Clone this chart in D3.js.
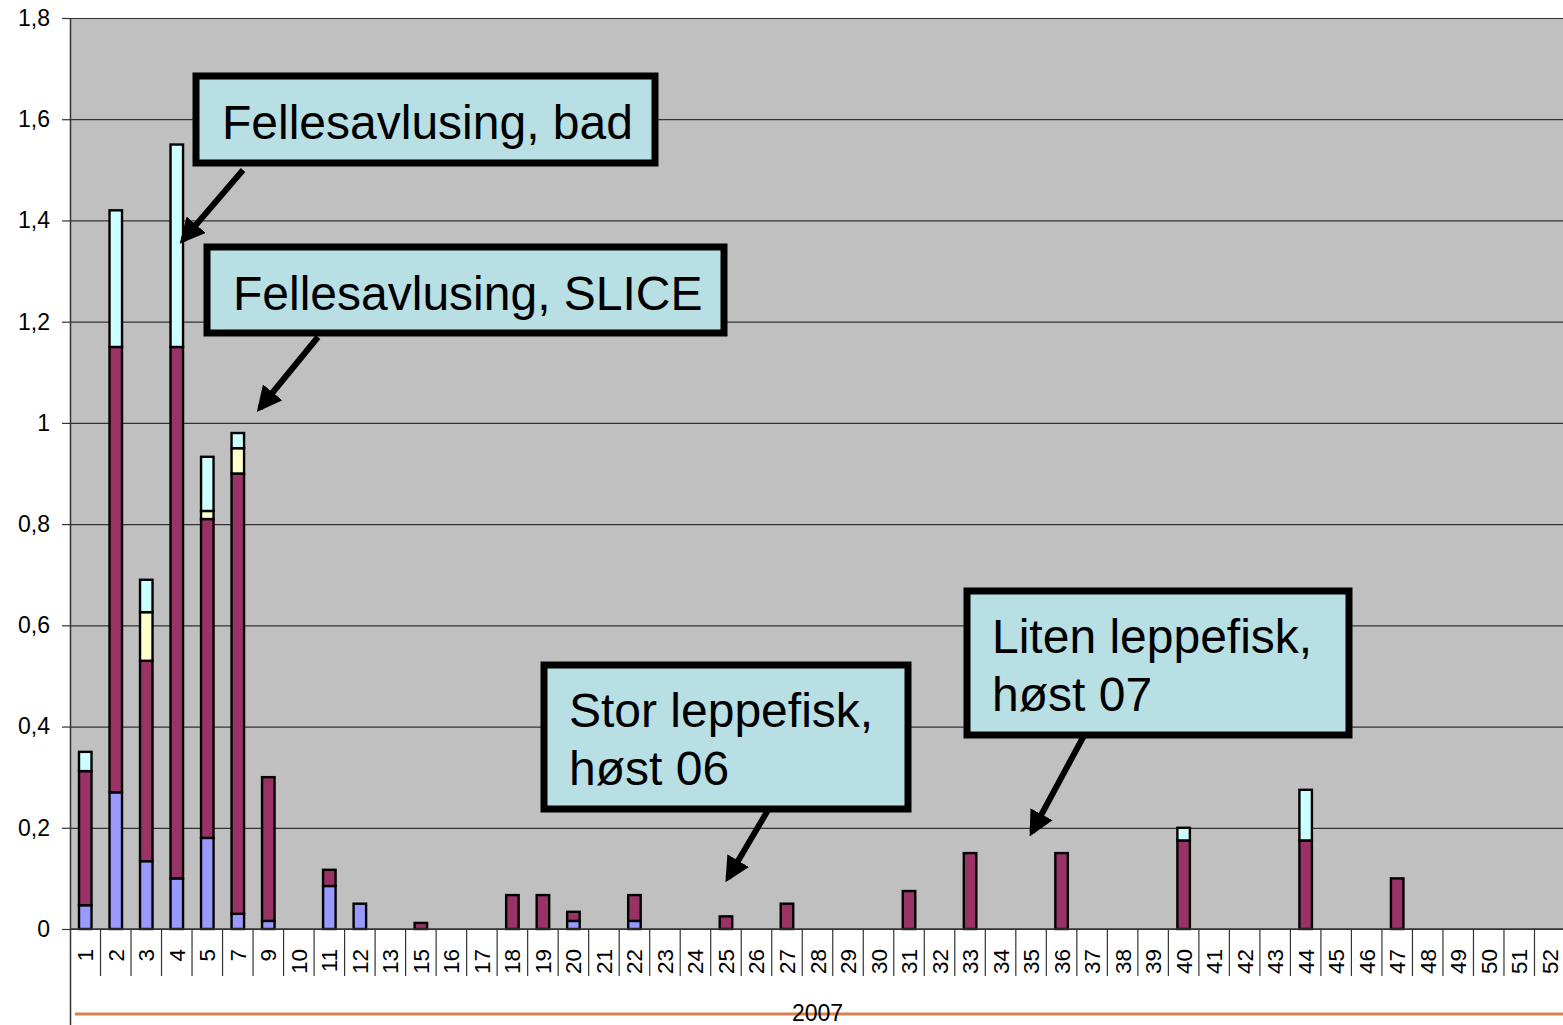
<!DOCTYPE html>
<html>
<head>
<meta charset="utf-8">
<script src="https://cdn.jsdelivr.net/npm/d3@7"></script>
<style>
  body { margin: 0; background: #fff; }
  svg text { font-family: "Liberation Sans", Arial, sans-serif; }
</style>
</head>
<body>
<svg id="chart" width="1563" height="1025"></svg>
<script>
// weeks shown on the axis (6, 8 and 14 are missing in the source)
const weeks = [1,2,3,4,5,7,9,10,11,12,13,15,16,17,18,19,20,21,22,23,24,25,26,27,28,29,30,
  31,32,33,34,35,36,37,38,39,40,41,42,43,44,45,46,47,48,49,50,51,52]

const blue   = [0.047,0.27,0.134,0.1,0.18,0.03,0.016,0,0.085,0.05,0,0,0,0,0,0,0.016,0,0.016,0,0,0,0,0,0,0,0,
  0,0,0,0,0,0,0,0,0,0,0,0,0,0,0,0,0,0,0,0,0,0]
const maroon = [0.265,0.88,0.396,1.05,0.63,0.87,0.284,0,0.032,0,0,0.012,0,0,0.067,0.067,0.018,0,0.051,0,0,0.025,0,0.05,0,0,0,
  0.075,0,0.15,0,0,0.15,0,0,0,0.175,0,0,0,0.175,0,0,0.1,0,0,0,0,0]
const yellow = [0,0,0.096,0,0.016,0.05,0,0,0,0,0,0,0,0,0,0,0,0,0,0,0,0,0,0,0,0,0,
  0,0,0,0,0,0,0,0,0,0,0,0,0,0,0,0,0,0,0,0,0,0]
const cyan   = [0.038,0.27,0.064,0.4,0.107,0.03,0,0,0,0,0,0,0,0,0,0,0,0,0,0,0,0,0,0,0,0,0,
  0,0,0,0,0,0,0,0,0,0.025,0,0,0,0.1,0,0,0,0,0,0,0,0]

const seriesKeys = ["blue", "maroon", "yellow", "cyan"]
const seriesColors = ["#9999FF", "#993366", "#FFFFCC", "#CCFFFF"]
const yTicks = [0, 0.2, 0.4, 0.6, 0.8, 1, 1.2, 1.4, 1.6, 1.8]
const yearLabel = "2007"

// callout boxes (pixel layout) and their arrows
const callouts = [
  {lines: ["Fellesavlusing, bad"], x: 196, y: 76, w: 459, h: 87, arrow: [[243, 170], [183, 240]]},
  {lines: ["Fellesavlusing, SLICE"], x: 207, y: 247, w: 517, h: 86, arrow: [[318, 337], [260, 408]]},
  {lines: ["Stor leppefisk,", "høst 06"], x: 544, y: 665, w: 364, h: 144, arrow: [[771, 805], [728, 878]]},
  {lines: ["Liten leppefisk,", "høst 07"], x: 967, y: 591, w: 382, h: 144, arrow: [[1087, 730], [1032, 832]]}
]

const rows = weeks.map((w, i) => ({week: w, blue: blue[i], maroon: maroon[i], yellow: yellow[i], cyan: cyan[i]}))

const svg = d3.select("#chart")
const plot = {left: 70, right: 1565, top: 18, bottom: 929}

const x = d3.scaleBand()
  .domain(weeks)
  .range([plot.left, plot.right])
const y = d3.scaleLinear()
  .domain([0, 1.8])
  .range([plot.bottom, plot.top])

// plot background
svg.append("rect")
  .attr("x", plot.left).attr("y", plot.top)
  .attr("width", plot.right - plot.left).attr("height", plot.bottom - plot.top)
  .attr("fill", "#C0C0C0")

// gridlines
svg.append("g")
  .selectAll("line")
  .data(yTicks)
  .join("line")
  .attr("x1", plot.left).attr("x2", plot.right)
  .attr("y1", d => y(d) + 0.5).attr("y2", d => y(d) + 0.5)
  .attr("stroke", "#333").attr("stroke-width", 1.2)

// y axis
const yAxis = svg.append("g")
  .attr("transform", `translate(${plot.left},0)`)
  .call(d3.axisLeft(y).tickValues(yTicks).tickSize(8).tickPadding(12)
    .tickFormat(d => String(d).replace(".", ",")))
yAxis.select(".domain").remove()
yAxis.selectAll(".tick line").attr("stroke", "#333").attr("stroke-width", 1.2)
yAxis.selectAll(".tick text").attr("font-size", 23).attr("fill", "#000")
  .attr("font-family", "Liberation Sans, Arial, sans-serif")

svg.append("line")
  .attr("x1", plot.left + 0.5).attr("x2", plot.left + 0.5)
  .attr("y1", plot.top).attr("y2", 1025)
  .attr("stroke", "#333").attr("stroke-width", 1.5)

// stacked bars
const stack = d3.stack().keys(seriesKeys)
const layers = stack(rows)
const barW = x.bandwidth() * 0.41

svg.append("g")
  .selectAll("g")
  .data(layers)
  .join("g")
  .attr("fill", (d, i) => seriesColors[i])
  .selectAll("rect")
  .data(d => d.filter(s => s[1] - s[0] > 0))
  .join("rect")
  .attr("x", d => x(d.data.week) + (x.bandwidth() - barW) / 2)
  .attr("y", d => y(d[1]))
  .attr("width", barW)
  .attr("height", d => y(d[0]) - y(d[1]))
  .attr("stroke", "#000")
  .attr("stroke-width", 2.4)

// x axis line and category separators
svg.append("line")
  .attr("x1", plot.left).attr("x2", plot.right)
  .attr("y1", plot.bottom).attr("y2", plot.bottom)
  .attr("stroke", "#333").attr("stroke-width", 1.5)

svg.append("g")
  .selectAll("line")
  .data(weeks.slice(1))
  .join("line")
  .attr("x1", d => x(d)).attr("x2", d => x(d))
  .attr("y1", plot.bottom).attr("y2", 976)
  .attr("stroke", "#333").attr("stroke-width", 1.2)

svg.append("g")
  .selectAll("text")
  .data(weeks)
  .join("text")
  .attr("transform", d => `translate(${x(d) + x.bandwidth() / 2 + 8},949) rotate(-90)`)
  .attr("text-anchor", "end")
  .attr("font-size", 22.5)
  .text(d => d)

// year band
svg.append("line")
  .attr("x1", 75).attr("x2", 1563)
  .attr("y1", 1014).attr("y2", 1014)
  .attr("stroke", "#D8814F").attr("stroke-width", 3)

svg.append("text")
  .attr("x", (plot.left + plot.right) / 2)
  .attr("y", 1021)
  .attr("text-anchor", "middle")
  .attr("font-size", 23)
  .text(yearLabel)

// callouts
const defs = svg.append("defs")
defs.append("marker")
  .attr("id", "head")
  .attr("viewBox", "0 0 10 10")
  .attr("refX", 8).attr("refY", 5)
  .attr("markerWidth", 4.2).attr("markerHeight", 4.2)
  .attr("markerUnits", "strokeWidth")
  .attr("orient", "auto")
  .append("path")
  .attr("d", "M0,0 L10,5 L0,10 z")
  .attr("fill", "#000")

const cg = svg.append("g")
  .selectAll("g")
  .data(callouts)
  .join("g")

cg.append("line")
  .attr("x1", d => d.arrow[0][0]).attr("y1", d => d.arrow[0][1])
  .attr("x2", d => d.arrow[1][0]).attr("y2", d => d.arrow[1][1])
  .attr("stroke", "#000").attr("stroke-width", 6)
  .attr("marker-end", "url(#head)")

cg.append("rect")
  .attr("x", d => d.x).attr("y", d => d.y)
  .attr("width", d => d.w).attr("height", d => d.h)
  .attr("fill", "#B8DFE3")
  .attr("stroke", "#000").attr("stroke-width", 7)

cg.each(function(d) {
  const g = d3.select(this)
  d.lines.forEach((line, i) => {
    g.append("text")
      .attr("x", d.x + (d.lines.length > 1 ? 25 : 26))
      .attr("y", d.lines.length > 1 ? d.y + 62 + i * 58 : d.y + 63)
      .attr("font-size", 48)
      .text(line)
  })
})
</script>
</body>
</html>
